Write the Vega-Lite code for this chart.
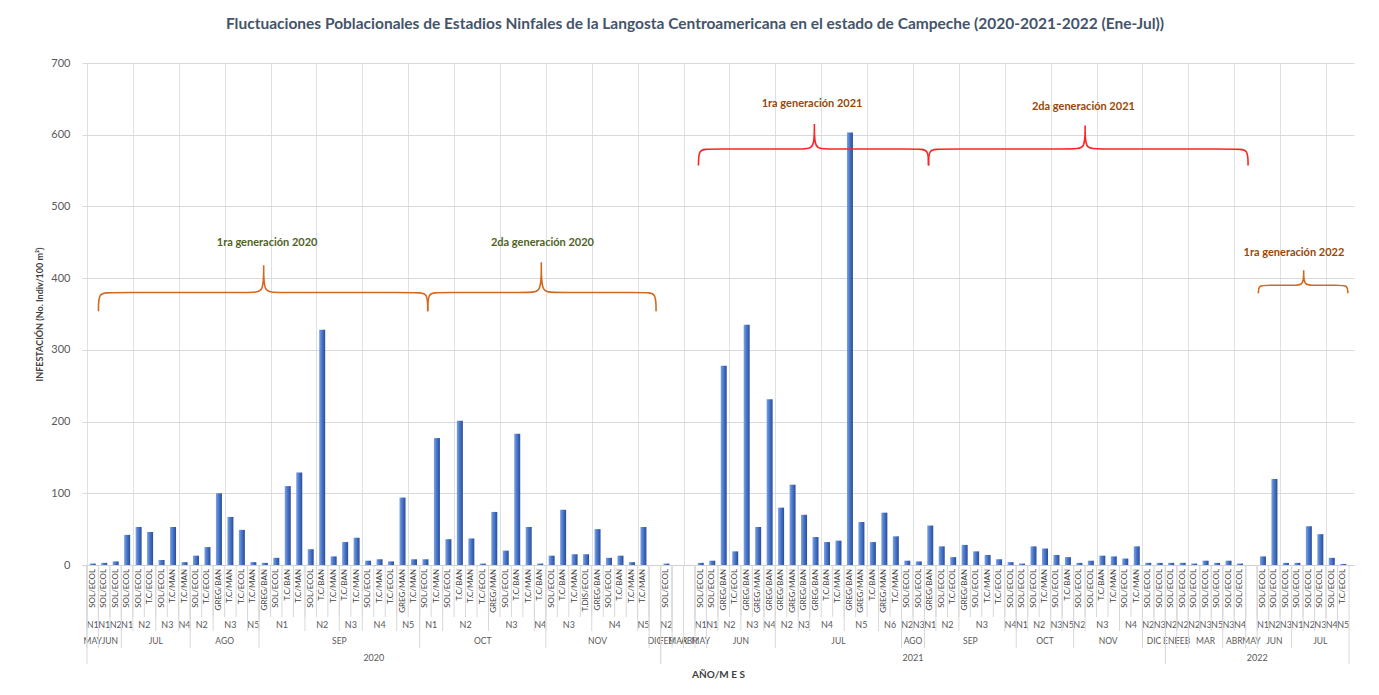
{
  "$schema": "https://vega.github.io/schema/vega-lite/v6.json",
  "width": 1272,
  "height": 502,
  "autosize": "none",
  "padding": {"left": 82, "top": 63, "right": 25, "bottom": 130},
  "background": "white",
  "config": {
    "view": {"stroke": null},
    "font": "Lato",
    "axis": {"labelFont": "Lato", "titleFont": "Lato"},
    "text": {"font": "Lato"},
    "title": {"font": "Lato"}
  },
  "title": {
    "text": "Fluctuaciones Poblacionales de Estadios Ninfales de la Langosta Centroamericana en el estado de Campeche (2020-2021-2022 (Ene-Jul))",
    "fontSize": 15.5,
    "fontWeight": "bold",
    "color": "#44546A",
    "anchor": "middle",
    "frame": "group",
    "dx": -23,
    "offset": 25
  },
  "datasets": {
    "main": [
      {"slot":1,"year":"2020","month":"MAY","stage":"N1","cat":"SOL/ECOL","value":2},
      {"slot":2,"year":"2020","month":"JUN","stage":"N1","cat":"SOL/ECOL","value":3},
      {"slot":3,"year":"2020","month":"JUN","stage":"N2","cat":"SOL/ECOL","value":5},
      {"slot":4,"year":"2020","month":"JUL","stage":"N1","cat":"SOL/ECOL","value":42},
      {"slot":5,"year":"2020","month":"JUL","stage":"N2","cat":"SOL/ECOL","value":53},
      {"slot":6,"year":"2020","month":"JUL","stage":"N2","cat":"T.C/ECOL","value":46},
      {"slot":7,"year":"2020","month":"JUL","stage":"N3","cat":"SOL/ECOL","value":7},
      {"slot":8,"year":"2020","month":"JUL","stage":"N3","cat":"T.C/MAN","value":53},
      {"slot":9,"year":"2020","month":"JUL","stage":"N4","cat":"T.C/MAN","value":4},
      {"slot":10,"year":"2020","month":"AGO","stage":"N2","cat":"SOL/ECOL","value":13},
      {"slot":11,"year":"2020","month":"AGO","stage":"N2","cat":"T.C/ECOL","value":25},
      {"slot":12,"year":"2020","month":"AGO","stage":"N3","cat":"GREG/BAN","value":100},
      {"slot":13,"year":"2020","month":"AGO","stage":"N3","cat":"T.C/MAN","value":67},
      {"slot":14,"year":"2020","month":"AGO","stage":"N3","cat":"T.C/ECOL","value":49},
      {"slot":15,"year":"2020","month":"AGO","stage":"N5","cat":"T.C/MAN","value":4},
      {"slot":16,"year":"2020","month":"SEP","stage":"N1","cat":"GREG/BAN","value":3},
      {"slot":17,"year":"2020","month":"SEP","stage":"N1","cat":"SOL/ECOL","value":10},
      {"slot":18,"year":"2020","month":"SEP","stage":"N1","cat":"T.C/BAN","value":110},
      {"slot":19,"year":"2020","month":"SEP","stage":"N1","cat":"T.C/MAN","value":129},
      {"slot":20,"year":"2020","month":"SEP","stage":"N2","cat":"SOL/ECOL","value":22},
      {"slot":21,"year":"2020","month":"SEP","stage":"N2","cat":"T.C/BAN","value":328},
      {"slot":22,"year":"2020","month":"SEP","stage":"N2","cat":"T.C/MAN","value":12},
      {"slot":23,"year":"2020","month":"SEP","stage":"N3","cat":"T.C/BAN","value":32},
      {"slot":24,"year":"2020","month":"SEP","stage":"N3","cat":"T.C/MAN","value":38},
      {"slot":25,"year":"2020","month":"SEP","stage":"N4","cat":"SOL/ECOL","value":6},
      {"slot":26,"year":"2020","month":"SEP","stage":"N4","cat":"T.C/MAN","value":8},
      {"slot":27,"year":"2020","month":"SEP","stage":"N4","cat":"T.C/ECOL","value":5},
      {"slot":28,"year":"2020","month":"SEP","stage":"N5","cat":"GREG/MAN","value":94},
      {"slot":29,"year":"2020","month":"SEP","stage":"N5","cat":"T.C/MAN","value":8},
      {"slot":30,"year":"2020","month":"OCT","stage":"N1","cat":"SOL/ECOL","value":8},
      {"slot":31,"year":"2020","month":"OCT","stage":"N1","cat":"T.C/MAN","value":177},
      {"slot":32,"year":"2020","month":"OCT","stage":"N2","cat":"SOL/ECOL","value":36},
      {"slot":33,"year":"2020","month":"OCT","stage":"N2","cat":"T.C/BAN","value":201},
      {"slot":34,"year":"2020","month":"OCT","stage":"N2","cat":"T.C/MAN","value":37},
      {"slot":35,"year":"2020","month":"OCT","stage":"N2","cat":"T.C/ECOL","value":2},
      {"slot":36,"year":"2020","month":"OCT","stage":"N3","cat":"GREG/MAN","value":74},
      {"slot":37,"year":"2020","month":"OCT","stage":"N3","cat":"SOL/ECOL","value":20},
      {"slot":38,"year":"2020","month":"OCT","stage":"N3","cat":"T.C/BAN","value":183},
      {"slot":39,"year":"2020","month":"OCT","stage":"N3","cat":"T.C/MAN","value":53},
      {"slot":40,"year":"2020","month":"OCT","stage":"N4","cat":"T.C/BAN","value":2},
      {"slot":41,"year":"2020","month":"NOV","stage":"N3","cat":"SOL/ECOL","value":13},
      {"slot":42,"year":"2020","month":"NOV","stage":"N3","cat":"T.C/BAN","value":77},
      {"slot":43,"year":"2020","month":"NOV","stage":"N3","cat":"T.C/MAN","value":15},
      {"slot":44,"year":"2020","month":"NOV","stage":"N3","cat":"T.DIS/ECOL","value":15},
      {"slot":45,"year":"2020","month":"NOV","stage":"N4","cat":"GREG/BAN","value":50},
      {"slot":46,"year":"2020","month":"NOV","stage":"N4","cat":"SOL/ECOL","value":10},
      {"slot":47,"year":"2020","month":"NOV","stage":"N4","cat":"T.C/BAN","value":13},
      {"slot":48,"year":"2020","month":"NOV","stage":"N4","cat":"T.C/MAN","value":4},
      {"slot":49,"year":"2020","month":"NOV","stage":"N5","cat":"T.C/MAN","value":53},
      {"slot":50,"year":"2020","month":"DIC","stage":"","cat":"","value":null},
      {"slot":51,"year":"2021","month":"FEB","stage":"N2","cat":"SOL/ECOL","value":2},
      {"slot":52,"year":"2021","month":"MAR","stage":"","cat":"","value":null},
      {"slot":53,"year":"2021","month":"ABR","stage":"","cat":"","value":null},
      {"slot":54,"year":"2021","month":"MAY","stage":"N1","cat":"SOL/ECOL","value":3},
      {"slot":55,"year":"2021","month":"JUN","stage":"N1","cat":"SOL/ECOL","value":6},
      {"slot":56,"year":"2021","month":"JUN","stage":"N2","cat":"GREG/BAN","value":278},
      {"slot":57,"year":"2021","month":"JUN","stage":"N2","cat":"T.C/ECOL","value":19},
      {"slot":58,"year":"2021","month":"JUN","stage":"N3","cat":"GREG/BAN","value":335},
      {"slot":59,"year":"2021","month":"JUN","stage":"N3","cat":"GREG/MAN","value":53},
      {"slot":60,"year":"2021","month":"JUN","stage":"N4","cat":"GREG/BAN","value":231},
      {"slot":61,"year":"2021","month":"JUL","stage":"N2","cat":"GREG/BAN","value":80},
      {"slot":62,"year":"2021","month":"JUL","stage":"N2","cat":"GREG/MAN","value":112},
      {"slot":63,"year":"2021","month":"JUL","stage":"N3","cat":"GREG/BAN","value":70},
      {"slot":64,"year":"2021","month":"JUL","stage":"N4","cat":"GREG/BAN","value":39},
      {"slot":65,"year":"2021","month":"JUL","stage":"N4","cat":"T.C/BAN","value":32},
      {"slot":66,"year":"2021","month":"JUL","stage":"N4","cat":"T.C/MAN","value":34},
      {"slot":67,"year":"2021","month":"JUL","stage":"N5","cat":"GREG/BAN","value":603},
      {"slot":68,"year":"2021","month":"JUL","stage":"N5","cat":"GREG/MAN","value":60},
      {"slot":69,"year":"2021","month":"JUL","stage":"N5","cat":"T.C/BAN","value":32},
      {"slot":70,"year":"2021","month":"JUL","stage":"N6","cat":"GREG/MAN","value":73},
      {"slot":71,"year":"2021","month":"JUL","stage":"N6","cat":"T.C/MAN","value":40},
      {"slot":72,"year":"2021","month":"AGO","stage":"N2","cat":"SOL/ECOL","value":6},
      {"slot":73,"year":"2021","month":"AGO","stage":"N3","cat":"SOL/ECOL","value":5},
      {"slot":74,"year":"2021","month":"SEP","stage":"N1","cat":"GREG/BAN","value":55},
      {"slot":75,"year":"2021","month":"SEP","stage":"N2","cat":"SOL/ECOL","value":26},
      {"slot":76,"year":"2021","month":"SEP","stage":"N2","cat":"T.C/ECOL","value":11},
      {"slot":77,"year":"2021","month":"SEP","stage":"N3","cat":"GREG/BAN","value":28},
      {"slot":78,"year":"2021","month":"SEP","stage":"N3","cat":"SOL/ECOL","value":19},
      {"slot":79,"year":"2021","month":"SEP","stage":"N3","cat":"T.C/MAN","value":14},
      {"slot":80,"year":"2021","month":"SEP","stage":"N3","cat":"T.C/ECOL","value":8},
      {"slot":81,"year":"2021","month":"SEP","stage":"N4","cat":"SOL/ECOL","value":4},
      {"slot":82,"year":"2021","month":"OCT","stage":"N1","cat":"SOL/ECOL","value":2},
      {"slot":83,"year":"2021","month":"OCT","stage":"N2","cat":"SOL/ECOL","value":26},
      {"slot":84,"year":"2021","month":"OCT","stage":"N2","cat":"T.C/MAN","value":23},
      {"slot":85,"year":"2021","month":"OCT","stage":"N3","cat":"SOL/ECOL","value":14},
      {"slot":86,"year":"2021","month":"OCT","stage":"N5","cat":"T.C/BAN","value":11},
      {"slot":87,"year":"2021","month":"NOV","stage":"N2","cat":"SOL/ECOL","value":3},
      {"slot":88,"year":"2021","month":"NOV","stage":"N3","cat":"SOL/ECOL","value":6},
      {"slot":89,"year":"2021","month":"NOV","stage":"N3","cat":"T.C/BAN","value":13},
      {"slot":90,"year":"2021","month":"NOV","stage":"N3","cat":"T.C/MAN","value":12},
      {"slot":91,"year":"2021","month":"NOV","stage":"N4","cat":"SOL/ECOL","value":9},
      {"slot":92,"year":"2021","month":"NOV","stage":"N4","cat":"T.C/MAN","value":26},
      {"slot":93,"year":"2021","month":"DIC","stage":"N2","cat":"SOL/ECOL","value":3},
      {"slot":94,"year":"2021","month":"DIC","stage":"N3","cat":"SOL/ECOL","value":3},
      {"slot":95,"year":"2022","month":"ENE","stage":"N2","cat":"SOL/ECOL","value":3},
      {"slot":96,"year":"2022","month":"FEB","stage":"N2","cat":"SOL/ECOL","value":3},
      {"slot":97,"year":"2022","month":"MAR","stage":"N2","cat":"SOL/ECOL","value":2},
      {"slot":98,"year":"2022","month":"MAR","stage":"N3","cat":"SOL/ECOL","value":6},
      {"slot":99,"year":"2022","month":"MAR","stage":"N5","cat":"SOL/ECOL","value":3},
      {"slot":100,"year":"2022","month":"ABR","stage":"N3","cat":"SOL/ECOL","value":6},
      {"slot":101,"year":"2022","month":"ABR","stage":"N4","cat":"SOL/ECOL","value":2},
      {"slot":102,"year":"2022","month":"MAY","stage":"","cat":"","value":null},
      {"slot":103,"year":"2022","month":"JUN","stage":"N1","cat":"SOL/ECOL","value":12},
      {"slot":104,"year":"2022","month":"JUN","stage":"N2","cat":"SOL/ECOL","value":120},
      {"slot":105,"year":"2022","month":"JUN","stage":"N3","cat":"SOL/ECOL","value":3},
      {"slot":106,"year":"2022","month":"JUL","stage":"N1","cat":"SOL/ECOL","value":3},
      {"slot":107,"year":"2022","month":"JUL","stage":"N2","cat":"SOL/ECOL","value":54},
      {"slot":108,"year":"2022","month":"JUL","stage":"N3","cat":"SOL/ECOL","value":43},
      {"slot":109,"year":"2022","month":"JUL","stage":"N4","cat":"SOL/ECOL","value":10},
      {"slot":110,"year":"2022","month":"JUL","stage":"N5","cat":"T.C/ECOL","value":1.5}
    ],
    "braces": [
      {"brace":"g1","grp":"2020","i":1,"bx":1.5,"by":354},
      {"brace":"g1","grp":"2020","i":2,"bx":1.5,"by":380},
      {"brace":"g1","grp":"2020","i":3,"bx":2.4,"by":380},
      {"brace":"g1","grp":"2020","i":4,"bx":15.0,"by":380},
      {"brace":"g1","grp":"2020","i":5,"bx":15.9,"by":380},
      {"brace":"g1","grp":"2020","i":6,"bx":15.9,"by":418},
      {"brace":"g1","grp":"2020","i":7,"bx":15.9,"by":418},
      {"brace":"g1","grp":"2020","i":8,"bx":15.9,"by":418},
      {"brace":"g1","grp":"2020","i":9,"bx":15.9,"by":380},
      {"brace":"g1","grp":"2020","i":10,"bx":16.8,"by":380},
      {"brace":"g1","grp":"2020","i":11,"bx":29.3,"by":380},
      {"brace":"g1","grp":"2020","i":12,"bx":30.2,"by":380},
      {"brace":"g1","grp":"2020","i":13,"bx":30.2,"by":354},
      {"brace":"g2","grp":"2020","i":1,"bx":30.2,"by":354},
      {"brace":"g2","grp":"2020","i":2,"bx":30.2,"by":380},
      {"brace":"g2","grp":"2020","i":3,"bx":31.1,"by":380},
      {"brace":"g2","grp":"2020","i":4,"bx":39.2,"by":380},
      {"brace":"g2","grp":"2020","i":5,"bx":40.1,"by":380},
      {"brace":"g2","grp":"2020","i":6,"bx":40.1,"by":422},
      {"brace":"g2","grp":"2020","i":7,"bx":40.1,"by":422},
      {"brace":"g2","grp":"2020","i":8,"bx":40.1,"by":422},
      {"brace":"g2","grp":"2020","i":9,"bx":40.1,"by":380},
      {"brace":"g2","grp":"2020","i":10,"bx":41.0,"by":380},
      {"brace":"g2","grp":"2020","i":11,"bx":49.2,"by":380},
      {"brace":"g2","grp":"2020","i":12,"bx":50.1,"by":380},
      {"brace":"g2","grp":"2020","i":13,"bx":50.1,"by":354},
      {"brace":"r1","grp":"2021","i":1,"bx":53.8,"by":557},
      {"brace":"r1","grp":"2021","i":2,"bx":53.8,"by":580},
      {"brace":"r1","grp":"2021","i":3,"bx":54.7,"by":580},
      {"brace":"r1","grp":"2021","i":4,"bx":63.0,"by":580},
      {"brace":"r1","grp":"2021","i":5,"bx":63.9,"by":580},
      {"brace":"r1","grp":"2021","i":6,"bx":63.9,"by":615},
      {"brace":"r1","grp":"2021","i":7,"bx":63.9,"by":615},
      {"brace":"r1","grp":"2021","i":8,"bx":63.9,"by":615},
      {"brace":"r1","grp":"2021","i":9,"bx":63.9,"by":580},
      {"brace":"r1","grp":"2021","i":10,"bx":64.8,"by":580},
      {"brace":"r1","grp":"2021","i":11,"bx":72.95,"by":580},
      {"brace":"r1","grp":"2021","i":12,"bx":73.85,"by":580},
      {"brace":"r1","grp":"2021","i":13,"bx":73.85,"by":557},
      {"brace":"r2","grp":"2021","i":1,"bx":73.85,"by":557},
      {"brace":"r2","grp":"2021","i":2,"bx":73.85,"by":580},
      {"brace":"r2","grp":"2021","i":3,"bx":74.75,"by":580},
      {"brace":"r2","grp":"2021","i":4,"bx":86.6,"by":580},
      {"brace":"r2","grp":"2021","i":5,"bx":87.5,"by":580},
      {"brace":"r2","grp":"2021","i":6,"bx":87.5,"by":613},
      {"brace":"r2","grp":"2021","i":7,"bx":87.5,"by":613},
      {"brace":"r2","grp":"2021","i":8,"bx":87.5,"by":613},
      {"brace":"r2","grp":"2021","i":9,"bx":87.5,"by":580},
      {"brace":"r2","grp":"2021","i":10,"bx":88.4,"by":580},
      {"brace":"r2","grp":"2021","i":11,"bx":100.8,"by":580},
      {"brace":"r2","grp":"2021","i":12,"bx":101.7,"by":580},
      {"brace":"r2","grp":"2021","i":13,"bx":101.7,"by":557},
      {"brace":"o3","grp":"2022","i":1,"bx":102.6,"by":379},
      {"brace":"o3","grp":"2022","i":2,"bx":102.6,"by":390},
      {"brace":"o3","grp":"2022","i":3,"bx":103.4,"by":390},
      {"brace":"o3","grp":"2022","i":4,"bx":105.75,"by":390},
      {"brace":"o3","grp":"2022","i":5,"bx":106.55,"by":390},
      {"brace":"o3","grp":"2022","i":6,"bx":106.55,"by":411},
      {"brace":"o3","grp":"2022","i":7,"bx":106.55,"by":411},
      {"brace":"o3","grp":"2022","i":8,"bx":106.55,"by":411},
      {"brace":"o3","grp":"2022","i":9,"bx":106.55,"by":390},
      {"brace":"o3","grp":"2022","i":10,"bx":107.35,"by":390},
      {"brace":"o3","grp":"2022","i":11,"bx":109.6,"by":390},
      {"brace":"o3","grp":"2022","i":12,"bx":110.4,"by":390},
      {"brace":"o3","grp":"2022","i":13,"bx":110.4,"by":379}
    ],
    "notes": [
      {"note":"1ra generación 2020","grp":"2020","nx":16.2,"ny":449},
      {"note":"2da generación 2020","grp":"2020","nx":40.2,"ny":449},
      {"note":"1ra generación 2021","grp":"2021","nx":63.7,"ny":643},
      {"note":"2da generación 2021","grp":"2021","nx":87.35,"ny":639},
      {"note":"1ra generación 2022","grp":"2022","nx":105.7,"ny":435}
    ]
  },
  "layer": [
    {
      "data": {"name": "main"},
      "mark": {
        "type": "bar",
        "width": 6,
        "fill": {
          "gradient": "linear",
          "x1": 0, "y1": 0, "x2": 1, "y2": 0,
          "stops": [
            {"offset": 0, "color": "#7EA2E4"},
            {"offset": 0.45, "color": "#4A78CC"},
            {"offset": 1, "color": "#2A4C96"}
          ]
        }
      },
      "encoding": {
        "x": {
          "field": "slot",
          "type": "quantitative",
          "scale": {"domain": [0.5, 110.5], "nice": false, "zero": false},
          "axis": {
            "values": [0.5,1.5,2.5,3.5,4.5,5.5,6.5,7.5,8.5,9.5,10.5,11.5,12.5,13.5,14.5,15.5,16.5,17.5,18.5,19.5,20.5,21.5,22.5,23.5,24.5,25.5,26.5,27.5,28.5,29.5,30.5,31.5,32.5,33.5,34.5,35.5,36.5,37.5,38.5,39.5,40.5,41.5,42.5,43.5,44.5,45.5,46.5,47.5,48.5,49.5,50.5,51.5,52.5,53.5,54.5,55.5,56.5,57.5,58.5,59.5,60.5,61.5,62.5,63.5,64.5,65.5,66.5,67.5,68.5,69.5,70.5,71.5,72.5,73.5,74.5,75.5,76.5,77.5,78.5,79.5,80.5,81.5,82.5,83.5,84.5,85.5,86.5,87.5,88.5,89.5,90.5,91.5,92.5,93.5,94.5,95.5,96.5,97.5,98.5,99.5,100.5,101.5,102.5,103.5,104.5,105.5,106.5,107.5,108.5,109.5,110.5],
            "labels": false,
            "ticks": false,
            "grid": true,
            "gridColor": "#DCE0E7",
            "gridWidth": 1,
            "domain": true,
            "domainColor": "#D0D0D0",
            "title": "AÑO/M E S",
            "titleFontSize": 10,
            "titleFontWeight": "bold",
            "titleColor": "#404040",
            "titlePadding": 104
          }
        },
        "y": {
          "field": "value",
          "type": "quantitative",
          "scale": {"domain": [0, 700], "nice": false},
          "axis": {
            "values": [0, 100, 200, 300, 400, 500, 600, 700],
            "grid": true,
            "gridColor": "#D9D9D9",
            "domain": false,
            "ticks": false,
            "labelFontSize": 11,
            "labelColor": "#595959",
            "labelPadding": 12,
            "title": "INFESTACIÓN (No. Indiv/100 m²)",
            "titleFontSize": 9,
            "titleFontWeight": "bold",
            "titleColor": "#404040",
            "titlePadding": 6
          }
        }
      }
    },
    {
      "data": {"name": "main"},
      "mark": {"type": "text", "angle": 270, "align": "right", "baseline": "middle", "yOffset": 4, "fontSize": 8, "color": "#404040"},
      "encoding": {
        "x": {"field": "slot", "type": "quantitative"},
        "y": {"datum": 0, "type": "quantitative"},
        "text": {"field": "cat"}
      }
    },
    {
      "data": {"name": "main"},
      "mark": {"type": "rule", "xOffset": -5.78, "y2Offset": 52, "color": "#D9D9D9", "strokeWidth": 1},
      "encoding": {
        "x": {"field": "slot", "type": "quantitative"},
        "y": {"datum": 0, "type": "quantitative"},
        "y2": {"datum": 0}
      }
    },
    {
      "data": {"name": "main"},
      "transform": [{"aggregate": [{"op": "mean", "field": "slot", "as": "mid"}], "groupby": ["year", "month", "stage"]}],
      "mark": {"type": "text", "align": "center", "baseline": "middle", "yOffset": 60, "fontSize": 9, "color": "#595959"},
      "encoding": {
        "x": {"field": "mid", "type": "quantitative"},
        "y": {"datum": 0, "type": "quantitative"},
        "text": {"field": "stage"}
      }
    },
    {
      "data": {"name": "main"},
      "transform": [{"aggregate": [{"op": "min", "field": "slot", "as": "first"}], "groupby": ["year", "month", "stage"]}],
      "mark": {"type": "rule", "xOffset": -5.78, "y2Offset": 66, "color": "#D9D9D9", "strokeWidth": 1},
      "encoding": {
        "x": {"field": "first", "type": "quantitative"},
        "y": {"datum": 0, "type": "quantitative"},
        "y2": {"datum": 0}
      }
    },
    {
      "data": {"name": "main"},
      "transform": [{"aggregate": [{"op": "mean", "field": "slot", "as": "mid"}], "groupby": ["year", "month"]}],
      "mark": {"type": "text", "align": "center", "baseline": "middle", "yOffset": 76, "fontSize": 8.5, "color": "#595959"},
      "encoding": {
        "x": {"field": "mid", "type": "quantitative"},
        "y": {"datum": 0, "type": "quantitative"},
        "text": {"field": "month"}
      }
    },
    {
      "data": {"name": "main"},
      "transform": [{"aggregate": [{"op": "min", "field": "slot", "as": "first"}], "groupby": ["year", "month"]}],
      "mark": {"type": "rule", "xOffset": -5.78, "y2Offset": 83, "color": "#D9D9D9", "strokeWidth": 1},
      "encoding": {
        "x": {"field": "first", "type": "quantitative"},
        "y": {"datum": 0, "type": "quantitative"},
        "y2": {"datum": 0}
      }
    },
    {
      "data": {"name": "main"},
      "transform": [{"aggregate": [{"op": "mean", "field": "slot", "as": "mid"}], "groupby": ["year"]}],
      "mark": {"type": "text", "align": "center", "baseline": "middle", "yOffset": 93, "fontSize": 9, "color": "#595959"},
      "encoding": {
        "x": {"field": "mid", "type": "quantitative"},
        "y": {"datum": 0, "type": "quantitative"},
        "text": {"field": "year"}
      }
    },
    {
      "data": {"name": "main"},
      "transform": [{"aggregate": [{"op": "min", "field": "slot", "as": "first"}], "groupby": ["year"]}],
      "mark": {"type": "rule", "xOffset": -5.78, "y2Offset": 99, "color": "#D9D9D9", "strokeWidth": 1},
      "encoding": {
        "x": {"field": "first", "type": "quantitative"},
        "y": {"datum": 0, "type": "quantitative"},
        "y2": {"datum": 0}
      }
    },
    {
      "data": {"name": "main"},
      "transform": [{"aggregate": [{"op": "max", "field": "slot", "as": "last"}], "groupby": ["year"]}],
      "mark": {"type": "rule", "xOffset": 5.78, "y2Offset": 99, "color": "#D9D9D9", "strokeWidth": 1},
      "encoding": {
        "x": {"field": "last", "type": "quantitative"},
        "y": {"datum": 0, "type": "quantitative"},
        "y2": {"datum": 0}
      }
    },
    {
      "data": {"name": "braces"},
      "mark": {"type": "line", "interpolate": "basis", "strokeWidth": 1.6},
      "encoding": {
        "x": {"field": "bx", "type": "quantitative"},
        "y": {"field": "by", "type": "quantitative"},
        "detail": {"field": "brace"},
        "order": {"field": "i", "type": "quantitative"},
        "stroke": {"field": "grp", "type": "nominal", "scale": {"domain": ["2020", "2021", "2022"], "range": ["#D2691E", "#FF2424", "#D2691E"]}, "legend": null}
      }
    },
    {
      "data": {"name": "notes"},
      "mark": {"type": "text", "align": "center", "baseline": "middle", "fontSize": 11, "fontWeight": "bold"},
      "encoding": {
        "x": {"field": "nx", "type": "quantitative"},
        "y": {"field": "ny", "type": "quantitative"},
        "text": {"field": "note"},
        "color": {"field": "grp", "type": "nominal", "scale": {"domain": ["2020", "2021", "2022"], "range": ["#4F6228", "#984807", "#984807"]}, "legend": null}
      }
    }
  ]
}
